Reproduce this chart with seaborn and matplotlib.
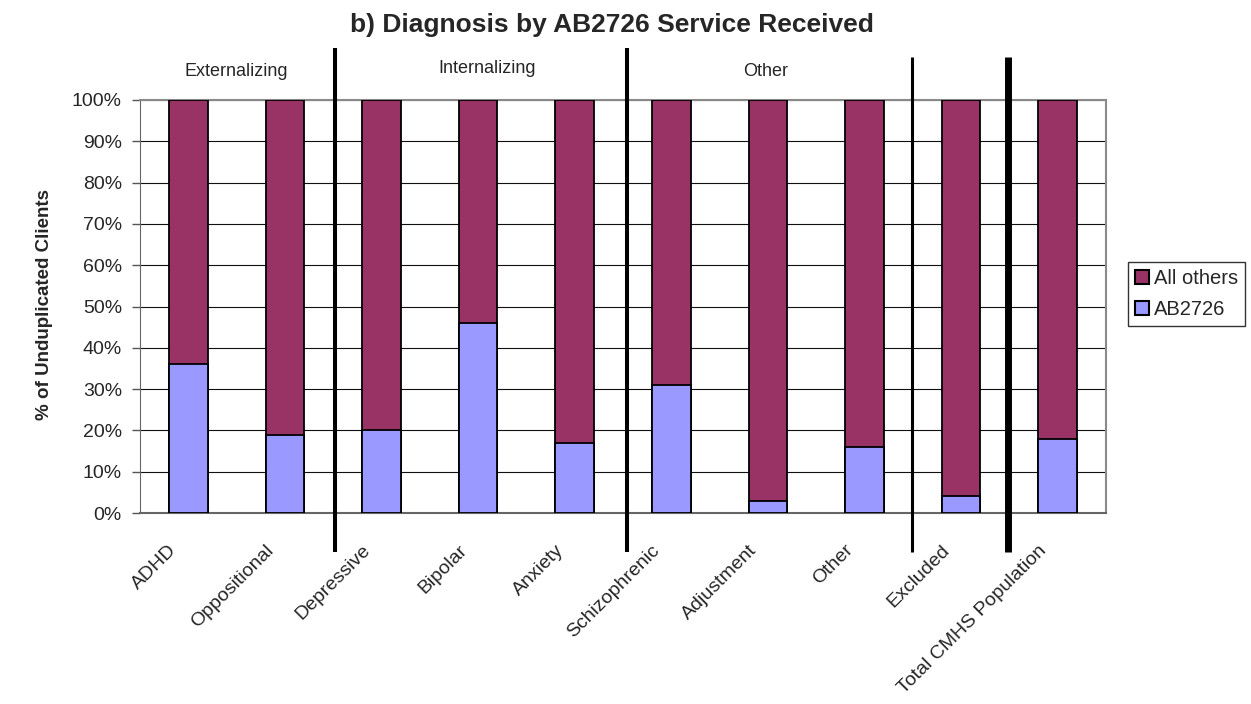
import matplotlib
matplotlib.use("Agg")
import matplotlib.pyplot as plt
import matplotlib.transforms as mtrans
import seaborn as sns
import pandas as pd
from matplotlib.patches import Patch

categories = ["ADHD", "Oppositional", "Depressive", "Bipolar", "Anxiety",
              "Schizophrenic", "Adjustment", "Other", "Excluded",
              "Total CMHS Population"]
ab2726 = [36, 19, 20, 46, 17, 31, 3, 16, 4, 18]
all_others = [64, 81, 80, 54, 83, 69, 97, 84, 96, 82]
group_labels = ["Externalizing", "Internalizing", "Other"]
y_ticks = [0, 10, 20, 30, 40, 50, 60, 70, 80, 90, 100]

sns.set_style("white")
plt.rcParams['font.family'] = ['Liberation Sans', 'DejaVu Sans']

df = pd.DataFrame({
    "cat": categories,
    "ab": ab2726,
    "total": [a + o for a, o in zip(ab2726, all_others)],
})

C_OTH = "#993366"
C_AB = "#9999FF"

W, H = 1251, 704
fig = plt.figure(figsize=(W / 100, H / 100), dpi=100)
ax = fig.add_axes([140 / W, 1 - 513 / H, 966 / W, 413 / H])

sns.barplot(data=df, x="cat", y="total", color=C_OTH, width=0.40,
            edgecolor="black", linewidth=1.3, saturation=1, ax=ax, zorder=3)
sns.barplot(data=df, x="cat", y="ab", color=C_AB, width=0.40,
            edgecolor="black", linewidth=1.3, saturation=1, ax=ax, zorder=4)

ax.set_xlim(-0.5, len(categories) - 0.5)
ax.set_ylim(0, 100)
ax.set_yticks(y_ticks)
ax.set_yticklabels([f"{v}%" for v in y_ticks], fontsize=14)
ax.yaxis.grid(True, color="#111111", linewidth=0.8, zorder=0)
ax.set_axisbelow(True)

ax.set_xticks(list(range(len(categories))))
ax.set_xticklabels(categories, rotation=45, ha="right", va="center",
                   rotation_mode="anchor", fontsize=14)
ax.tick_params(axis="x", which="major", length=0, pad=25)
shift = mtrans.ScaledTranslation(-14 / 100, 0, fig.dpi_scale_trans)
for lab in ax.get_xticklabels():
    lab.set_transform(lab.get_transform() + shift)
ax.set_xticks([i + 0.5 for i in range(-1, len(categories))], minor=True)
ax.tick_params(axis="x", which="minor", length=4.5, direction="out",
               color="#555555", width=1)
ax.tick_params(axis="y", length=6, direction="out", color="#555555", width=1,
               left=True, pad=7)
ax.set_xlabel("")
ax.set_ylabel("")

fig.text(45 / W, 1 - 304 / H, "% of Unduplicated Clients", rotation=90,
         ha="center", va="center", fontsize=13.5, fontweight="bold")

for side in ["top", "right"]:
    ax.spines[side].set_color("#8a8a8a")
    ax.spines[side].set_linewidth(1.5)
ax.spines["left"].set_color("#666666")
ax.spines["bottom"].set_color("#666666")
ax.spines["bottom"].set_linewidth(1.5)

# separator lines between diagnosis groups
for xpos, ytop, lw in [(1.52, 1.126, 2.9), (4.54, 1.126, 2.9),
                       (7.49, 1.104, 2.2), (8.49, 1.104, 5.0)]:
    ax.axvline(xpos, ymin=-0.094, ymax=ytop, color="black", linewidth=lw,
               clip_on=False, zorder=6, solid_capstyle="butt")

# group labels
for xpos, label, yv in [(0.50, group_labels[0], 106.8),
                        (3.09, group_labels[1], 107.7),
                        (5.98, group_labels[2], 106.8)]:
    ax.text(xpos, yv, label, ha="center", va="center", fontsize=13,
            clip_on=False)

fig.text(612 / W, 1 - 25 / H, "b) Diagnosis by AB2726 Service Received",
         ha="center", va="center", fontsize=19, fontweight="bold")

handles = [Patch(facecolor=C_OTH, edgecolor="black", linewidth=1.5, label="All others"),
           Patch(facecolor=C_AB, edgecolor="black", linewidth=1.5, label="AB2726")]
leg = fig.legend(handles=handles, loc="upper left",
                 bbox_to_anchor=(1128 / W, 1 - 262 / H),
                 frameon=True, fancybox=False, fontsize=14.5, handlelength=0.7,
                 handleheight=0.7, handletextpad=0.25, borderpad=0.35,
                 labelspacing=0.6, borderaxespad=0)
leg.get_frame().set_edgecolor("black")
leg.get_frame().set_linewidth(1.0)

fig.savefig("out.png", dpi=100)
